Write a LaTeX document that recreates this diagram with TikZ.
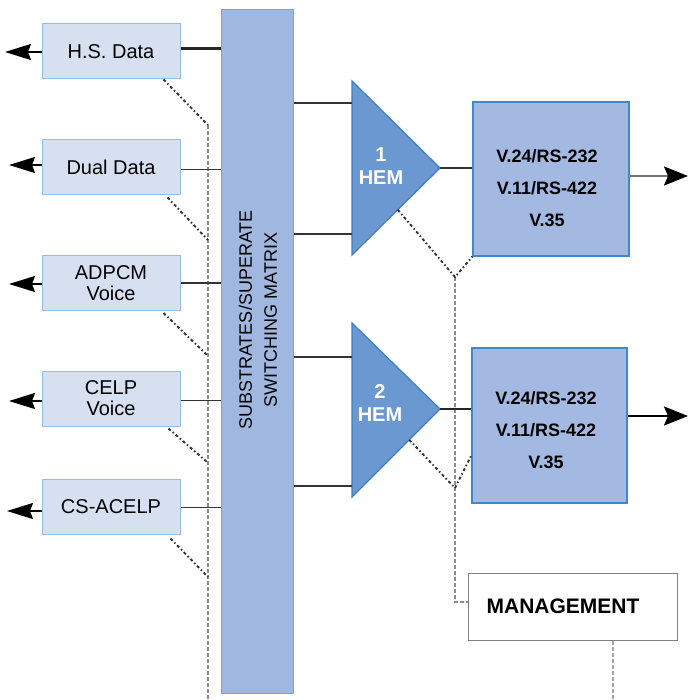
\documentclass[tikz,border=0pt]{standalone}
\usepackage{fontspec}
\setmainfont{Liberation Sans}
\usetikzlibrary{arrows.meta,calc}

\definecolor{srcfill}{HTML}{D6E0F1}
\definecolor{srcline}{HTML}{93C0E2}
\definecolor{mxfill}{HTML}{A0B7DF}
\definecolor{mxline}{HTML}{7AA2D6}
\definecolor{hemfill}{HTML}{6B98D1}
\definecolor{hemline}{HTML}{3F7EC3}
\definecolor{ifill}{HTML}{A3B9E1}
\definecolor{iline}{HTML}{4088CB}
\definecolor{wirec}{HTML}{333333}

\begin{document}
\begin{tikzpicture}[x=1pt,y=-1pt,
  srcbox/.style={draw=srcline, fill=srcfill, line width=1pt, minimum width=138pt,
    minimum height=55pt, inner sep=0pt, align=center, font=\fontsize{20}{21}\selectfont},
  ifbox/.style={draw=iline, fill=ifill, line width=1.2pt, inner sep=0pt},
  iftext/.style={align=center, font=\fontsize{18}{32}\selectfont\bfseries},
  hem/.style={draw=hemline, fill=hemfill, line width=1.2pt, line join=miter},
  hemtext/.style={align=center, text=white, font=\fontsize{20}{23}\selectfont\bfseries},
  wire/.style={draw=wirec, line width=1.5pt},
  thickwire/.style={draw=black!85, line width=2.6pt},
  outarrow/.style={line width=1.8pt, -{Stealth[length=26pt,width=16pt,inset=3pt,color=black]}},
  inarrow/.style={line width=2.2pt, -{Stealth[length=24pt,width=19pt,inset=4pt,color=black]}},
  mgmtdash/.style={draw=black!80, line width=1.9pt, dash pattern=on 3pt off 2.5pt on 1.5pt off 2.5pt},
  busdash/.style={draw=black!45, line width=1.3pt, dash pattern=on 4pt off 2pt},
  hdash/.style={draw=black!65, line width=2pt, dash pattern=on 5pt off 3pt},
]
\useasboundingbox (0,0) rectangle (689,700);

% switching matrix
\node[draw=mxline, fill=mxfill, line width=1pt, minimum width=72pt, minimum height=683pt,
      inner sep=0pt] (mx) at (257,351.5) {};
\node[rotate=90, align=center, font=\fontsize{18}{25}\selectfont] (mxt) at (258,320)
  {SUBSTRATES/SUPERATE\\SWITCHING MATRIX};

% source boxes
\node[srcbox] (hs)   at (111,51.5)  {H.S. Data};
\node[srcbox] (dual) at (111,167.5) {Dual Data};
\node[srcbox] (adp)  at (111,283)   {ADPCM\\Voice};
\node[srcbox] (celp) at (111,398.5) {CELP\\Voice};
\node[srcbox] (cs)   at (111,506.5) {CS-ACELP};

% exits to the left
\coordinate (ohs)   at (5,52);
\coordinate (odual) at (9,165);
\coordinate (oadp)  at (9,284);
\coordinate (ocelp) at (9,401);
\coordinate (ocs)   at (7,511);
\draw[outarrow] (hs.west |- ohs) -- (ohs);
\draw[outarrow] (dual.west |- odual) -- (odual);
\draw[outarrow] (adp.west |- oadp) -- (oadp);
\draw[outarrow] (celp.west |- ocelp) -- (ocelp);
\draw[outarrow] (cs.west |- ocs) -- (ocs);

% management bus on the left
\coordinate (lv1) at (208,125);
\coordinate (lv2) at (208,240);
\coordinate (lv3) at (207,355);
\coordinate (lv4) at (207,462);
\coordinate (lv5) at (208,577);
\coordinate (lvb) at (208,700);
\draw[busdash] (lv1) -- (lvb);
\draw[mgmtdash] ($(hs.south east)+(-17,0)$) -- (lv1);
\draw[mgmtdash] ($(dual.south east)+(-13,2)$) -- (lv2);
\draw[mgmtdash] ($(adp.south east)+(-17,2)$) -- (lv3);
\draw[mgmtdash] ($(celp.south east)+(-12,2)$) -- (lv4);
\draw[mgmtdash] ($(cs.south east)+(-10,4)$) -- (lv5);

% source boxes into the matrix
\draw[thickwire] ($(hs.east)+(0,-3)$) -- ($(hs.east -| mx.west)+(0,-3)$);
\draw[wire] ($(dual.east)+(0,2)$) -- ($(dual.east -| mx.west)+(0,2)$);
\draw[wire] (adp.east) -- (adp.east -| mx.west);
\draw[wire] ($(celp.east)+(0,2)$) -- ($(celp.east -| mx.west)+(0,2)$);
\draw[wire] ($(cs.east)+(0,1)$) -- ($(cs.east -| mx.west)+(0,1)$);

% HEM 1
\coordinate (t1top) at (352,81);
\coordinate (t1bot) at (352,255);
\coordinate (t1tip) at (440,168);
\path[hem] (t1top) -- (t1tip) -- (t1bot) -- cycle;
\node[hemtext] (h1) at (381,166) {1\\HEM};
\coordinate (t1a) at (352,103);
\coordinate (t1b) at (352,234);
\draw[wire] (t1a -| mx.east) -- (t1a);
\draw[wire] (t1b -| mx.east) -- (t1b);

% HEM 2
\coordinate (t2top) at (352,323);
\coordinate (t2bot) at (352,497);
\coordinate (t2tip) at (440,409);
\path[hem] (t2top) -- (t2tip) -- (t2bot) -- cycle;
\node[hemtext] (h2) at (380,403) {2\\HEM};
\coordinate (t2a) at (352,357);
\coordinate (t2b) at (352,486);
\draw[wire] (t2a -| mx.east) -- (t2a);
\draw[wire] (t2b -| mx.east) -- (t2b);

% interface boxes
\node[ifbox, minimum width=156pt, minimum height=154pt] (b1) at (551,179) {};
\node[iftext] (b1t) at (547,188) {V.24/RS-232\\V.11/RS-422\\V.35};
\node[ifbox, minimum width=155pt, minimum height=155pt] (b2) at (549.5,425.5) {};
\node[iftext] (b2t) at (546,430) {V.24/RS-232\\V.11/RS-422\\V.35};

% management box
\node[draw=black!50, fill=white, line width=1pt, minimum width=209pt, minimum height=67pt,
      inner sep=0pt] (mg) at (572.5,606.5) {};
\node[font=\fontsize{21}{24}\selectfont\bfseries] (mgt) at (563,606) {MANAGEMENT};

% management bus on the right
\coordinate (j1) at (455,277);
\coordinate (j2) at (455,488);
\coordinate (j3) at (455,602);
\draw[busdash] (j1) -- (j3) -- (j3 -| mg.west);
\draw[mgmtdash] ($(t1tip)!0.48!(t1bot)$) -- (j1) -- (b1.south west);
\draw[mgmtdash] ($(t2tip)!0.35!(t2bot)$) -- (j2) -- ($(b2.south west)!0.31!(b2.north west)$);
\draw[hdash] ($(mg.west)+(0,24)$ -| mx.east) -- ($(mg.west)+(0,24)$);
\coordinate (mgb) at (613,700);
\draw[busdash, draw=black!35] (mgb |- mg.south) -- (mgb);

% HEM outputs into the interfaces
\draw[wire] (t1tip) -- (t1tip -| b1.west);
\draw[thickwire, line width=2.2pt] (t2tip) -- (t2tip -| b2.west);

% interface outputs
\coordinate (e1) at (688,176);
\coordinate (e2) at (688,416);
\draw[inarrow, draw=black!55] (b1.east |- e1) -- (e1);
\draw[inarrow] (b2.east |- e2) -- (e2);
\end{tikzpicture}
\end{document}
